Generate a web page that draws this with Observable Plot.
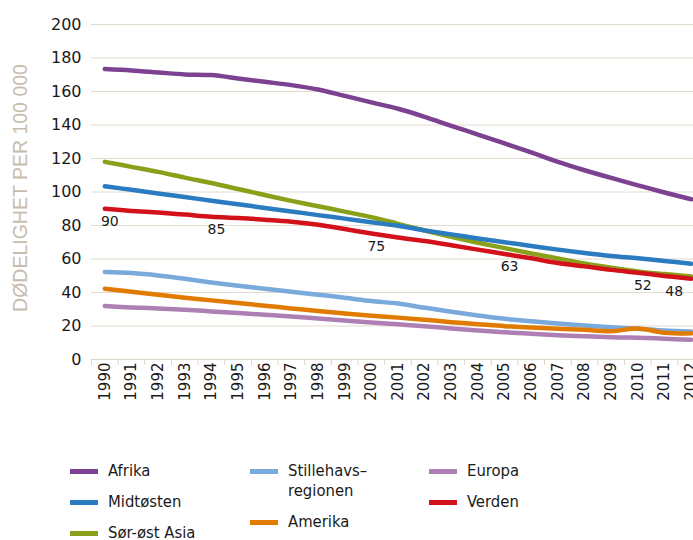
<!DOCTYPE html>
<html>
<head>
<meta charset="utf-8">
<script src="https://cdn.jsdelivr.net/npm/d3@7"></script>
<script src="https://cdn.jsdelivr.net/npm/@observablehq/plot@0.6"></script>
<style>
  html, body { margin: 0; padding: 0; background: #fff; overflow: hidden; }
  #chart svg { display: block; }
  #legend { position: relative; height: 100px; font-family: "Liberation Sans Narrow", "DejaVu Sans Condensed", "Liberation Sans", sans-serif; font-size: 16.5px; color: #1a1a1a; }
  .col { position: absolute; top: 21px; }
  .item { display: flex; align-items: flex-start; line-height: 20px; margin-bottom: 11px; }
  .sw { width: 28px; height: 5px; margin-top: 7.5px; margin-right: 10px; flex: none; }
  .lbl { white-space: pre-line; }
</style>
</head>
<body>
<div id="chart"></div>
<div id="legend"></div>
<script>
// ---- data ----
const years = [1990, 1991, 1992, 1993, 1994, 1995, 1996, 1997, 1998, 1999, 2000, 2001,
               2002, 2003, 2004, 2005, 2006, 2007, 2008, 2009, 2010, 2011, 2012];
const afrika     = [173.4, 172.6, 171.4, 170.2, 169.8, 167.8, 165.8, 163.8, 161.2, 157.4, 153.5, 149.7,
                    144.9, 139.5, 134.3, 129.0, 123.6, 118.0, 113.0, 108.4, 104.0, 99.7, 95.7];
const midtosten  = [103.4, 101.3, 99.1, 97.0, 94.8, 92.7, 90.5, 88.4, 86.2, 84.1, 81.9, 79.8,
                    77.1, 74.7, 72.2, 70.0, 67.8, 65.6, 63.6, 61.8, 60.4, 58.8, 57.2];
const sorostAsia = [118.0, 115.0, 112.0, 108.6, 105.4, 101.8, 98.2, 94.7, 91.5, 88.3, 85.0, 81.0,
                    77.0, 73.2, 69.7, 66.5, 63.3, 60.3, 57.3, 54.8, 52.6, 51.0, 49.5];
const stillehavs = [52.2, 51.6, 50.2, 48.2, 46.0, 44.0, 42.3, 40.5, 38.7, 36.9, 34.9, 33.4,
                    30.9, 28.5, 26.3, 24.3, 22.9, 21.5, 20.3, 19.3, 18.4, 17.3, 16.7];
const amerika    = [42.3, 40.5, 38.7, 36.9, 35.3, 33.7, 32.1, 30.5, 28.9, 27.5, 26.1, 25.0,
                    23.7, 22.3, 21.1, 19.9, 19.1, 18.4, 17.8, 16.9, 18.5, 16.0, 15.6];
const europa     = [31.9, 31.1, 30.5, 29.7, 28.7, 27.7, 26.7, 25.7, 24.5, 23.3, 22.1, 21.0,
                    19.9, 18.5, 17.3, 16.3, 15.4, 14.5, 13.9, 13.3, 13.0, 12.4, 11.8];
const verden     = [90.0, 88.7, 87.7, 86.5, 85.2, 84.5, 83.5, 82.3, 80.5, 77.9, 75.2, 72.8,
                    70.7, 68.2, 65.6, 63.0, 60.4, 57.6, 55.6, 53.5, 51.8, 49.9, 48.2];
const labelYears = [1990, 1994, 2000, 2005, 2010, 2012];
const yTicks = [0, 20, 40, 60, 80, 100, 120, 140, 160, 180, 200];
const yTitle = "DØDELIGHET PER 100 000";

const seriesNames = ["Afrika", "Midtøsten", "Sør-øst Asia", "Stillehavs–regionen", "Amerika", "Europa", "Verden"];
const seriesValues = [afrika, midtosten, sorostAsia, stillehavs, amerika, europa, verden];
const palette = ["#7c4190", "#2b7bc0", "#89a01a", "#7aa9dc", "#e07b00", "#ae7fb4", "#d3111b"];
const drawOrder = ["Europa", "Stillehavs–regionen", "Amerika", "Afrika", "Sør-øst Asia", "Midtøsten", "Verden"];

// ---- tables ----
const rows = [];
drawOrder.forEach(name => {
  const vals = seriesValues[seriesNames.indexOf(name)];
  vals.forEach((v, j) => rows.push({name, year: years[j], value: v}));
});
const labelRows = labelYears.map(y => ({year: y, value: verden[years.indexOf(y)]}));
const lastYear = years[years.length - 1];
const boundaries = years.map(y => y - 0.5).concat([lastYear + 0.5]);

const chart = Plot.plot({
  width: 693,
  height: 440,
  marginLeft: 91,
  marginRight: 0,
  marginTop: 24,
  marginBottom: 81,
  style: {fontFamily: "'DejaVu Sans', sans-serif", color: "#1a1a1a", background: "white", overflow: "visible"},
  x: {domain: [years[0] - 0.5, lastYear + 0.5], range: [91, 704], label: null},
  y: {domain: [0, 200], label: null},
  color: {domain: seriesNames, range: palette},
  marks: [
    Plot.gridY(yTicks, {stroke: "#e2dccf", strokeOpacity: 1}),
    Plot.ruleY([0], {stroke: "#dcd5c7"}),
    Plot.axisY(yTicks, {tickSize: 0, tickPadding: 10, fontSize: 16, label: null, fill: "#1a1a1a"}),
    Plot.axisX(boundaries, {tickSize: 6, tickFormat: () => "", stroke: "#dcd5c7", label: null}),
    Plot.axisX(years, {tickSize: 0, tickPadding: 3, tickRotate: -90, tickFormat: d => String(d), fontSize: 15, label: null, fill: "#1a1a1a"}),
    Plot.line(rows, {x: "year", y: "value", z: "name", stroke: "name", strokeWidth: 4.5, curve: "catmull-rom"}),
    Plot.text(labelRows.filter(d => d.year !== lastYear), {x: "year", y: "value", text: d => String(Math.round(d.value)), dy: 13, dx: 5, fontSize: 14, fill: "#1a1a1a"}),
    Plot.text(labelRows.filter(d => d.year === lastYear), {x: "year", y: "value", text: d => String(Math.round(d.value)), dy: 13, dx: -17, fontSize: 14, fill: "#1a1a1a"}),
    Plot.text([yTitle], {text: d => d, frameAnchor: "left", textAnchor: "middle", rotate: -90, dx: -71, dy: -4, fontSize: 19.5, fill: "#c8bdac", fontFamily: "'Liberation Sans', Arial, sans-serif"})
  ]
});
document.getElementById("chart").appendChild(chart);

// ---- legend ----
const legendCols = [["Afrika", "Midtøsten", "Sør-øst Asia"], ["Stillehavs–regionen", "Amerika"], ["Europa", "Verden"]];
const colLeft = [70, 250, 429];
const legend = document.getElementById("legend");
legendCols.forEach((col, ci) => {
  const c = document.createElement("div");
  c.className = "col";
  c.style.left = colLeft[ci] + "px";
  col.forEach(name => {
    const it = document.createElement("div");
    it.className = "item";
    const sw = document.createElement("span");
    sw.className = "sw";
    sw.style.background = palette[seriesNames.indexOf(name)];
    const lb = document.createElement("span");
    lb.className = "lbl";
    lb.textContent = name.replace("–", "–\n");
    it.appendChild(sw);
    it.appendChild(lb);
    c.appendChild(it);
  });
  legend.appendChild(c);
});
</script>
</body>
</html>
